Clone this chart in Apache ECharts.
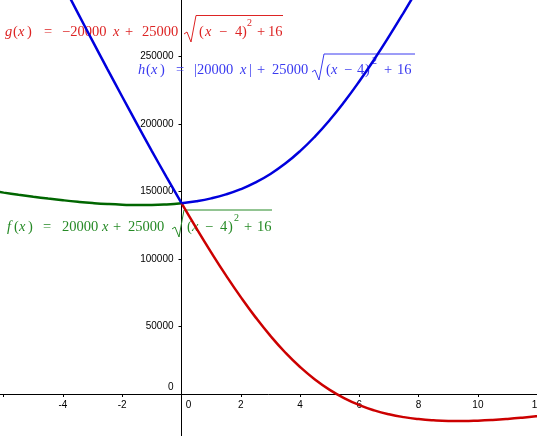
<!DOCTYPE html>
<html>
<head>
<meta charset="utf-8">
<script src="https://cdn.jsdelivr.net/npm/echarts@6/dist/echarts.min.js"></script>
<style>
  html, body { margin: 0; padding: 0; background: #fff; }
  #chart { width: 537px; height: 436px; }
</style>
</head>
<body>
<div id="chart"></div>
<script>
  var xLeft = [-6.5, -6, -5.5, -5, -4.5, -4, -3.5, -3, -2.5, -2, -1.5, -1, -0.5, 0];
  var xRight = [0, 0.5, 1, 1.5, 2, 2.5, 3, 3.5, 4, 4.5, 5, 5.5, 6, 6.5, 7, 7.5, 8, 8.5, 9, 9.5, 10, 10.5, 11, 11.5, 12, 12.5];

  // f(x), green, visible for x <= 0
  var fLeft = [150900, 149258, 147694, 146221, 144857, 143607, 142500, 141556, 140804, 140278, 140018, 140078, 140520, 141421];
  // g(x), red, visible for x >= 0
  var gRight = [141421, 122877, 105000, 87925, 71803, 56800, 43078, 30778, 20000, 10778, 3078, -3200, -8197, -12075, -15000,
    -17123, -18579, -19480, -19922, -19982, -19722, -19196, -18444, -17500, -16393, -15143];
  // h(x), blue, both branches
  var hLeft = [410900, 389258, 367694, 346221, 324857, 303607, 282500, 261556, 240804, 220278, 200018, 180078, 160520, 141421];
  var hRight = [141421, 142877, 145000, 147925, 151803, 156800, 163078, 170778, 180000, 190778, 203078, 216800, 231803,
    247925, 265000, 282877, 301421, 320520, 340078, 360018, 380278, 400804, 421556, 442500, 463607, 484857];

  function pairs(xs, ys) {
    return xs.map(function (x, i) { return [x, ys[i]]; });
  }

  var serifFont = '"Liberation Serif", "DejaVu Serif", serif';

  // one piece of formula text
  function tok(text, x, y, color, italic, size) {
    return {
      type: 'text',
      z: 1,
      silent: true,
      style: {
        x: x, y: y,
        text: text,
        fill: color,
        verticalAlign: 'middle',
        font: (italic ? 'italic ' : '') + (size || 14.5) + 'px ' + serifFont
      }
    };
  }

  function radical(points, color) {
    return {
      type: 'polyline',
      z: 1,
      silent: true,
      shape: { points: points },
      style: { stroke: color, lineWidth: 1, fill: null }
    };
  }

  var gColor = '#dd2424';
  var hColor = '#3a3af0';
  var fColor = '#268a26';

  var formulaG = [
    tok('g', 5, 32, gColor, true), tok('(', 13, 32, gColor), tok('x', 18, 32, gColor, true), tok(')', 27, 32, gColor),
    tok('=', 44, 32, gColor), tok('\u221220000', 62, 32, gColor), tok('x', 113, 32, gColor, true),
    tok('+', 125, 32, gColor), tok('25000', 142, 32, gColor),
    radical([[184, 34], [187, 32], [191, 42], [196, 15.5], [283, 15.5]], gColor),
    tok('(', 199, 32, gColor), tok('x', 205, 32, gColor, true), tok('\u2212', 219, 32, gColor), tok('4', 235, 32, gColor),
    tok(')', 242, 32, gColor), tok('2', 247, 23, gColor, false, 10), tok('+', 257, 32, gColor), tok('16', 268, 32, gColor)
  ];

  var formulaH = [
    tok('h', 138, 70, hColor, true), tok('(', 146, 70, hColor), tok('x', 151, 70, hColor, true), tok(')', 160, 70, hColor),
    tok('=', 176, 70, hColor), tok('|20000', 194, 70, hColor), tok('x', 240, 70, hColor, true), tok('|', 249, 70, hColor),
    tok('+', 257, 70, hColor), tok('25000', 272, 70, hColor),
    radical([[312, 72], [315, 70], [319, 80], [324, 54], [415, 54]], hColor),
    tok('(', 326, 70, hColor), tok('x', 331, 70, hColor, true), tok('\u2212', 344, 70, hColor), tok('4', 357, 70, hColor),
    tok(')', 365, 70, hColor), tok('2', 372, 61, hColor, false, 10), tok('+', 384, 70, hColor), tok('16', 397, 70, hColor)
  ];

  var formulaF = [
    tok('f', 7, 227, fColor, true), tok('(', 14, 227, fColor), tok('x', 19, 227, fColor, true), tok(')', 28, 227, fColor),
    tok('=', 43, 227, fColor), tok('20000', 62, 227, fColor), tok('x', 102, 227, fColor, true),
    tok('+', 113, 227, fColor), tok('25000', 128, 227, fColor),
    radical([[172, 229], [175, 227], [179, 237], [184, 210], [272, 210]], fColor),
    tok('(', 187, 227, fColor), tok('x', 192, 227, fColor, true), tok('\u2212', 205, 227, fColor), tok('4', 220, 227, fColor),
    tok(')', 228, 227, fColor), tok('2', 234, 218, fColor, false, 10), tok('+', 244, 227, fColor), tok('16', 257, 227, fColor)
  ];

  var chart = echarts.init(document.getElementById('chart'));

  var curveBase = {
    type: 'line',
    smooth: true,
    symbol: 'none',
    clip: true,
    silent: true
  };

  var labelFont = '"Liberation Sans", Arial, sans-serif';

  // grid runs past the canvas so the axes cross at (0, 0) where the reference has them
  var option = {
    animation: false,
    backgroundColor: '#ffffff',
    grid: {
      left: -55.6,
      right: -0.2,
      top: -10.8,
      bottom: -25.5,
      containLabel: false,
      outerBoundsMode: 'none'
    },
    xAxis: {
      type: 'value',
      position: 'bottom',
      offset: -67.5,
      min: -8,
      max: 12,
      interval: 2,
      splitLine: { show: false },
      axisLine: { onZero: false, lineStyle: { color: '#000', width: 1 } },
      axisTick: { show: true, length: 3, lineStyle: { color: '#000' } },
      axisLabel: {
        color: '#000',
        fontSize: 10,
        fontFamily: labelFont,
        margin: 6,
        showMinLabel: true,
        showMaxLabel: true,
        formatter: function (v) {
          if (v < -5) return '';
          return v === 0 ? '{z|0}' : String(v);
        },
        rich: { z: { padding: [0, 0, 0, 14], fontSize: 10, fontFamily: labelFont, color: '#000' } }
      }
    },
    yAxis: {
      type: 'value',
      position: 'left',
      offset: -237.1,
      min: -50000,
      max: 300000,
      interval: 50000,
      splitLine: { show: false },
      axisLine: { onZero: false, lineStyle: { color: '#000', width: 1 } },
      axisTick: { show: true, length: 3, lineStyle: { color: '#000' } },
      axisLabel: {
        color: '#000',
        fontSize: 10,
        fontFamily: labelFont,
        margin: 8,
        formatter: function (v) {
          if (v < 0) return '';
          return v === 0 ? '{z|0}' : String(v);
        },
        rich: { z: { padding: [0, 0, 14, 0], fontSize: 10, fontFamily: labelFont, color: '#000' } }
      }
    },
    series: [
      Object.assign({}, curveBase, {
        name: 'f', data: pairs(xLeft, fLeft), z: 3,
        lineStyle: { color: '#006600', width: 2.5 }
      }),
      Object.assign({}, curveBase, {
        name: 'g', data: pairs(xRight, gRight), z: 4,
        lineStyle: { color: '#cc0000', width: 2.5 }
      }),
      Object.assign({}, curveBase, {
        name: 'h', data: pairs(xLeft, hLeft), z: 5,
        lineStyle: { color: '#0000dd', width: 2.5 }
      }),
      Object.assign({}, curveBase, {
        name: 'h', data: pairs(xRight, hRight), z: 5,
        lineStyle: { color: '#0000dd', width: 2.5 }
      })
    ],
    graphic: formulaG.concat(formulaH, formulaF)
  };

  chart.setOption(option);
</script>
</body>
</html>
